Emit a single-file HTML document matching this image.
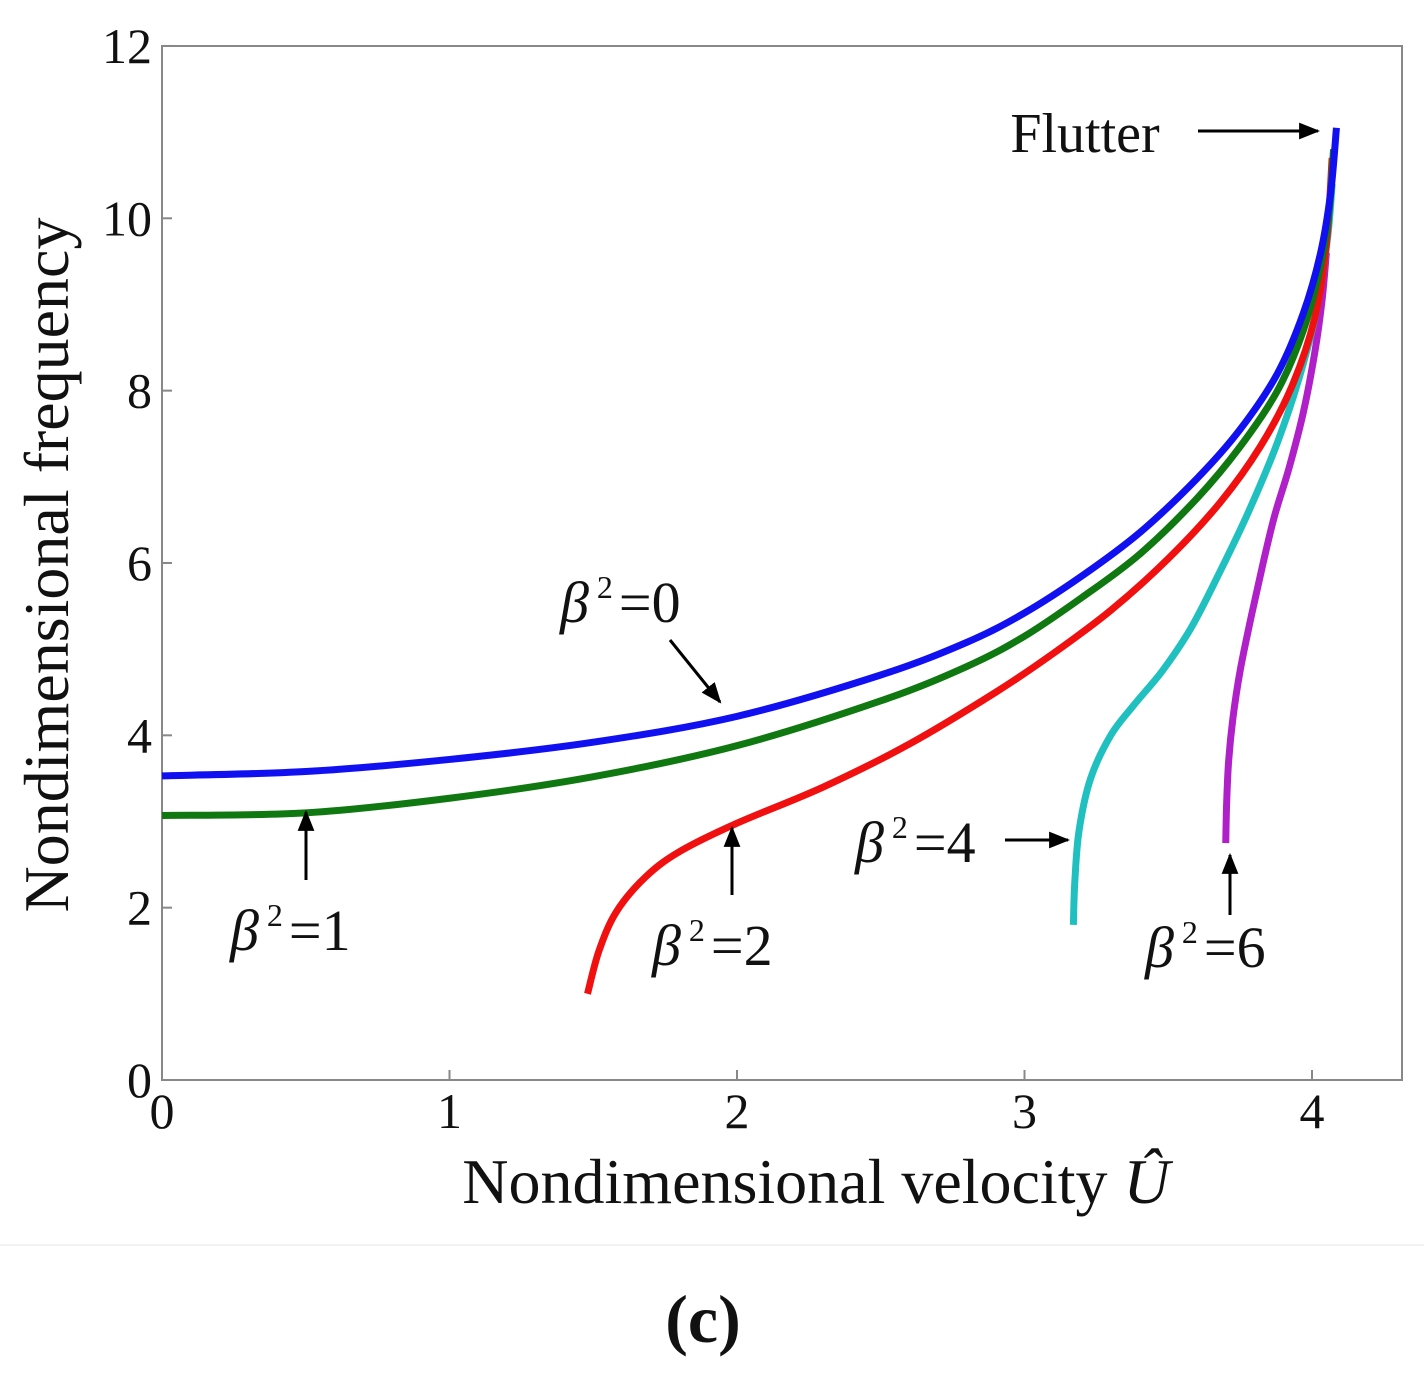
<!DOCTYPE html>
<html><head><meta charset="utf-8"><style>
body{margin:0;background:#fff}
svg text{font-family:"Liberation Serif",serif;fill:#111}
</style></head><body>
<svg width="1424" height="1373" viewBox="0 0 1424 1373">
<defs><marker id="ah" viewBox="0 0 10 10" refX="9" refY="5" markerWidth="7" markerHeight="7" orient="auto-start-reverse"><path d="M0,1 L10,5 L0,9 z" fill="#000"/></marker></defs>
<rect x="162" y="46" width="1240" height="1034" fill="none" stroke="#888" stroke-width="2"/>
<g id="ticks"></g>
<g id="series"></g>
<text x="816" y="1203" font-size="64" text-anchor="middle">Nondimensional velocity <tspan font-style="italic">Û</tspan></text>
<text transform="translate(68,565) rotate(-90)" font-size="64" text-anchor="middle">Nondimensional frequency</text>
<text x="1085" y="152" font-size="56" text-anchor="middle">Flutter</text>
<line x1="1198" y1="131" x2="1318" y2="131" stroke="#000" stroke-width="3" marker-end="url(#ah)"/>
<g font-size="58">
<text x="560" y="622"><tspan font-style="italic">β</tspan><tspan font-size="32" dy="-24" dx="8">2</tspan><tspan dy="24" dx="6">=0</tspan></text>
<line x1="670" y1="640" x2="720" y2="702" stroke="#000" stroke-width="3" marker-end="url(#ah)"/>
<text x="230" y="950"><tspan font-style="italic">β</tspan><tspan font-size="32" dy="-24" dx="8">2</tspan><tspan dy="24" dx="6">=1</tspan></text>
<line x1="306" y1="880" x2="306" y2="812" stroke="#000" stroke-width="3" marker-end="url(#ah)"/>
<text x="652" y="965"><tspan font-style="italic">β</tspan><tspan font-size="32" dy="-24" dx="8">2</tspan><tspan dy="24" dx="6">=2</tspan></text>
<line x1="732" y1="895" x2="732" y2="828" stroke="#000" stroke-width="3" marker-end="url(#ah)"/>
<text x="855" y="862"><tspan font-style="italic">β</tspan><tspan font-size="32" dy="-24" dx="8">2</tspan><tspan dy="24" dx="6">=4</tspan></text>
<line x1="1005" y1="840" x2="1068" y2="840" stroke="#000" stroke-width="3" marker-end="url(#ah)"/>
<text x="1145" y="967"><tspan font-style="italic">β</tspan><tspan font-size="32" dy="-24" dx="8">2</tspan><tspan dy="24" dx="6">=6</tspan></text>
<line x1="1230" y1="915" x2="1230" y2="855" stroke="#000" stroke-width="3" marker-end="url(#ah)"/>
</g>
<line x1="0" y1="1245" x2="1424" y2="1245" stroke="#f2f2f2" stroke-width="2"/>
<text x="703" y="1342" font-size="68" font-weight="bold" text-anchor="middle">(c)</text>
</svg>
<script>
const xTicks=[0,1,2,3,4];
const yTicks=[0,2,4,6,8,10,12];
const b0x=[0,0.5,1,1.5,2,2.5,2.8,3,3.2,3.4,3.6,3.75,3.88,3.97,4.03,4.065,4.085];
const b0y=[3.53,3.58,3.72,3.92,4.22,4.7,5.08,5.42,5.85,6.35,6.98,7.55,8.2,8.9,9.6,10.3,11.05];
const b1x=[0,0.5,1,1.5,2,2.5,2.8,3,3.2,3.4,3.6,3.75,3.88,3.97,4.03,4.06,4.075];
const b1y=[3.07,3.1,3.27,3.52,3.88,4.4,4.8,5.15,5.6,6.1,6.75,7.35,8.0,8.7,9.45,10.1,10.8];
const b2x=[1.48,1.52,1.58,1.68,1.8,2,2.3,2.6,2.9,3.1,3.3,3.5,3.68,3.82,3.93,4.01,4.05,4.07];
const b2y=[1.0,1.5,1.95,2.35,2.65,2.98,3.4,3.9,4.5,4.95,5.45,6.05,6.7,7.35,8.05,8.85,9.7,10.7];
const b4x=[3.17,3.175,3.19,3.23,3.3,3.38,3.48,3.58,3.68,3.78,3.88,3.96,4.02,4.055,4.07];
const b4y=[1.8,2.3,2.9,3.5,4.0,4.35,4.75,5.25,5.9,6.6,7.4,8.2,9.0,9.8,10.4];
const b6x=[3.7,3.703,3.71,3.725,3.75,3.79,3.83,3.87,3.92,3.97,4.01,4.035,4.05];
const b6y=[2.75,3.2,3.7,4.2,4.75,5.4,6.0,6.55,7.1,7.75,8.45,9.05,9.6];
const X=v=>162+v*287.5, Y=v=>1080-v*86.17;
const NS="http://www.w3.org/2000/svg";
const tg=document.getElementById('ticks'), sg=document.getElementById('series');
xTicks.forEach(t=>{
 const l=document.createElementNS(NS,'line');l.setAttribute('x1',X(t));l.setAttribute('x2',X(t));l.setAttribute('y1',1080);l.setAttribute('y2',1070);l.setAttribute('stroke','#888');l.setAttribute('stroke-width',2);
 
 tg.appendChild(l);
 const s=document.createElementNS(NS,'text');s.setAttribute('x',X(t));s.setAttribute('y',1128);s.setAttribute('font-size',50);s.setAttribute('text-anchor','middle');s.textContent=t;
 
 tg.appendChild(s);
});
yTicks.forEach(t=>{
 const l=document.createElementNS(NS,'line');l.setAttribute('x1',162);l.setAttribute('x2',172);l.setAttribute('y1',Y(t));l.setAttribute('y2',Y(t));l.setAttribute('stroke','#888');l.setAttribute('stroke-width',2);
 
 tg.appendChild(l);
 const s=document.createElementNS(NS,'text');s.setAttribute('x',152);s.setAttribute('y',Y(t)+17);s.setAttribute('font-size',50);s.setAttribute('text-anchor','end');s.textContent=t;
 
 tg.appendChild(s);
});
function draw(xs,ys,c,name){
 let d='M'+X(xs[0])+','+Y(ys[0]);
 for(let i=1;i<xs.length;i++){
  const p0=[X(xs[Math.max(i-2,0)]),Y(ys[Math.max(i-2,0)])],p1=[X(xs[i-1]),Y(ys[i-1])],p2=[X(xs[i]),Y(ys[i])],p3=[X(xs[Math.min(i+1,xs.length-1)]),Y(ys[Math.min(i+1,xs.length-1)])];
  d+=' C'+(p1[0]+(p2[0]-p0[0])/6)+','+(p1[1]+(p2[1]-p0[1])/6)+' '+(p2[0]-(p3[0]-p1[0])/6)+','+(p2[1]-(p3[1]-p1[1])/6)+' '+p2[0]+','+p2[1];
 }
 const p=document.createElementNS(NS,'path');p.setAttribute('d',d);p.setAttribute('fill','none');p.setAttribute('stroke',c);p.setAttribute('stroke-width',7);
 
 sg.appendChild(p);
}
draw(b6x,b6y,'#b020c8','series-beta6');
draw(b4x,b4y,'#20c0c0','series-beta4');
draw(b2x,b2y,'#f01010','series-beta2');
draw(b1x,b1y,'#107810','series-beta1');
draw(b0x,b0y,'#1010f0','series-beta0');
</script>
</body></html>
